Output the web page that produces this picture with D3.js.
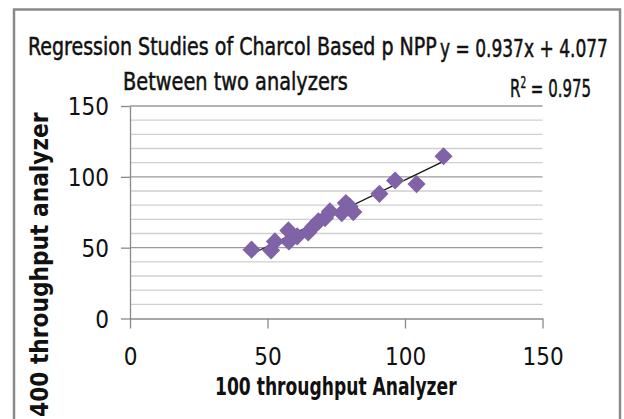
<!DOCTYPE html>
<meta charset="utf-8">
<head>
  <title>Regression scatter</title>
</head>
<style>
body { margin: 0; background: #fff; }
svg { display: block; }
text { font-family: "DejaVu Sans Condensed", "Liberation Sans", sans-serif; fill: #111; }
</style>
<body>
<svg width="624" height="419"></svg>
<script src="https://cdnjs.cloudflare.com/ajax/libs/d3/7.8.5/d3.min.js"></script>
<script>

// readings: 100 throughput (x) vs 400 throughput (y)
var xValues = [44.2, 51.3, 52.7, 57.6, 57.8, 60.8, 64.8, 66.7, 68.5, 70.9, 72.7, 77.0, 78.5, 79.8, 81.2, 90.7, 96.4, 104.2, 114.0];
var yValues = [48.6, 48.1, 54.4, 62.2, 54.4, 58.0, 60.8, 65.0, 68.5, 70.9, 75.6, 74.4, 81.5, 79.1, 75.1, 88.0, 97.4, 94.9, 114.5];
var xTicks = [0, 50, 100, 150];
var yTicks = [0, 50, 100, 150];
var minorTicks = d3.range(10, 151, 10);
var slope = 0.937, intercept = 4.077;

var svg = d3.select('svg');

// outer chart frame (bottom is cut off in the original)
svg.append('rect')
    .attr('x', 14).attr('y', 9.5)
    .attr('width', 606).attr('height', 440)
    .attr('fill', 'none')
    .attr('stroke', '#8a8a8a')
    .attr('stroke-width', 2.5);

var x = d3.scaleLinear().domain([0, 150]).range([130, 542.5]);
var y = d3.scaleLinear().domain([0, 150]).range([318.5, 106]);

// gridlines: minor every 10, major every 50
svg.append('g').selectAll('line')
    .data(minorTicks)
    .join('line')
    .attr('x1', x(0)).attr('x2', x(150))
    .attr('y1', d => y(d)).attr('y2', d => y(d))
    .attr('stroke', d => d % 50 === 0 ? '#9a9a9a' : '#cfcfcf')
    .attr('stroke-width', 1.3);

// axes
var xAxis = svg.append('g')
    .attr('transform', 'translate(0,' + y(0) + ')')
    .call(d3.axisBottom(x).tickValues(xTicks).tickSize(10).tickPadding(19).tickSizeOuter(0));
var yAxis = svg.append('g')
    .attr('transform', 'translate(' + x(0) + ',0)')
    .call(d3.axisLeft(y).tickValues(yTicks).tickSize(9).tickPadding(12).tickSizeOuter(0));

[xAxis, yAxis].forEach(function(a) {
    a.select('.domain').attr('stroke', '#8a8a8a').attr('stroke-width', 1.3);
    a.selectAll('.tick line').attr('stroke', '#8a8a8a').attr('stroke-width', 1.3);
    a.selectAll('.tick text')
        .style('font-family', '"DejaVu Sans Condensed", sans-serif')
        .style('font-size', '24px')
        .attr('fill', '#222');
});
yAxis.selectAll('.tick text').attr('dy', '0.36em');

// trendline over the data range
var xr = d3.extent(xValues);
svg.append('line')
    .attr('x1', x(xr[0])).attr('y1', y(slope * xr[0] + intercept))
    .attr('x2', x(xr[1])).attr('y2', y(slope * xr[1] + intercept))
    .attr('stroke', '#111')
    .attr('stroke-width', 1.2);

// diamond markers
var diamond = d3.symbol().type(d3.symbolSquare).size(165);
svg.append('g').selectAll('path')
    .data(xValues)
    .join('path')
    .attr('d', diamond)
    .attr('transform', (d, i) => 'translate(' + x(d) + ',' + y(yValues[i]) + ') rotate(45)')
    .attr('fill', '#7f63a6');

// text squeezed horizontally to the width seen in the picture
function label(px, py, size, len, weight, rot) {
    var g = svg.append('g');
    var t = g.append('text')
        .style('font-size', size + 'px')
        .style('font-weight', weight || 'normal');
    t.fit = function() {
        var w = t.node().getBBox().width;
        var sx = len / w;
        g.attr('transform', 'translate(' + px + ',' + py + ')' + (rot ? ' rotate(' + rot + ')' : '') + ' scale(' + sx + ',1)');
        return t;
    };
    return t;
}
function thin(t) { return t.style('stroke', '#111').style('stroke-width', 0.5); }

thin(label(28, 55, 25, 409)).text('Regression Studies of Charcol Based p NPP').fit();
thin(label(123, 90, 25, 225)).text('Between two analyzers').fit();
thin(label(440, 57, 25, 168)).text('y = 0.937x + 4.077').fit();

var r2 = thin(label(510, 97, 25, 81));
r2.append('tspan').text('R');
r2.append('tspan').attr('dy', -9).style('font-size', '15px').text('2');
r2.append('tspan').attr('dy', 9).text(' = 0.975');
r2.fit();

label(215, 395, 24, 242, 'bold').text('100 throughput Analyzer').fit();
label(48, 417, 24, 305, 'bold', -90).text('400 throughput analyzer').fit();

</script>
</body>
</html>
